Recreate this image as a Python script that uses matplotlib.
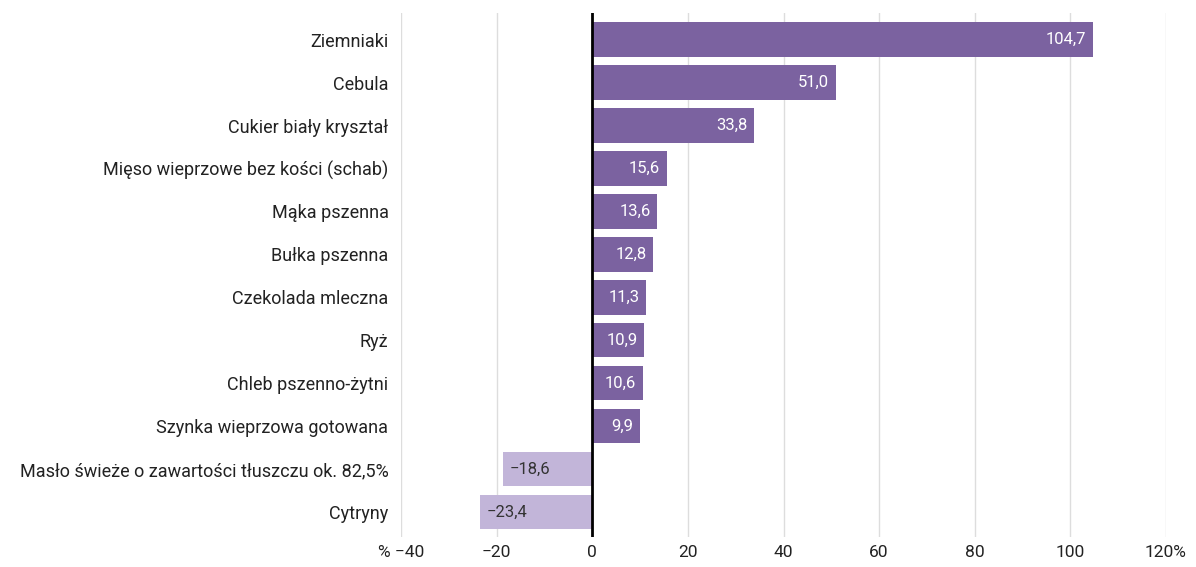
import matplotlib
matplotlib.use("Agg")
import matplotlib.pyplot as plt

categories = ["Ziemniaki", "Cebula", "Cukier biały kryształ", "Mięso wieprzowe bez kości (schab)",
              "Mąka pszenna", "Bułka pszenna", "Czekolada mleczna", "Ryż", "Chleb pszenno-żytni",
              "Szynka wieprzowa gotowana", "Masło świeże o zawartości tłuszczu ok. 82,5%", "Cytryny"]
values = [104.7, 51.0, 33.8, 15.6, 13.6, 12.8, 11.3, 10.9, 10.6, 9.9, -18.6, -23.4]
xticks = [-40, -20, 0, 20, 40, 60, 80, 100, 120]
xticklabels = ["% \u221240", "\u221220", "0", "20", "40", "60", "80", "100", "120%"]

plt.rcParams['font.family'] = ['Roboto', 'DejaVu Sans']
fig = plt.figure(figsize=(11.96, 5.67), dpi=100)
ax = fig.add_axes([401/1196, 1-537/567, (1166-401)/1196, (537-13)/567])

dark = "#7B62A0"
light = "#C2B5D9"
ys = list(range(len(categories)))
colors = [dark if v >= 0 else light for v in values]
ax.barh(ys, values, height=0.8, color=colors, zorder=2)
for y, v in zip(ys, values):
    s = f"{v:.1f}".replace(".", ",").replace("-", "\u2212")
    if v >= 0:
        ax.text(v - 1.4, y, s, ha="right", va="center", color="white", fontsize=12, zorder=3)
    else:
        ax.text(v + 1.4, y, s, ha="left", va="center", color="#333333", fontsize=12, zorder=3)

ax.set_xlim(-40, 120)
ax.set_ylim(11.58, -0.62)
ax.set_yticks(ys)
ax.set_yticklabels(categories, fontsize=13, color="#222222")
ax.set_xticks(xticks)
ax.set_xticklabels(xticklabels, fontsize=12.5, color="#222222")
ax.tick_params(length=0)
ax.tick_params(axis="y", pad=9)
ax.tick_params(axis="x", pad=6)
ax.grid(axis="x", color="#DDDDDD", linewidth=1, zorder=0)
ax.axvline(0, color="black", linewidth=2, zorder=4)
for sp in ax.spines.values():
    sp.set_visible(False)

fig.savefig("out.png", dpi=100, facecolor="white")
